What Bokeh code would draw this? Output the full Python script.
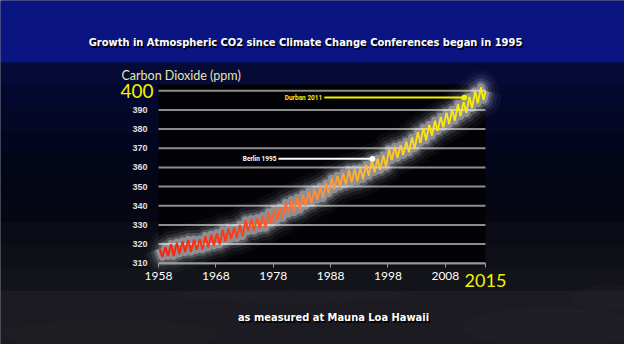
from bokeh.plotting import figure
from bokeh.models import Range1d, FixedTicker, Label, LinearAxis
from bokeh.embed import file_html
from bokeh.resources import INLINE

# ---- data ----
years = list(range(1958, 2015))
peak_ppm = [317.5, 318.3, 320.0, 320.7, 321.4, 322.2, 322.3, 322.5, 324.1, 324.9,
            325.7, 327.3, 328.1, 328.5, 330.0, 332.4, 333.0, 333.6, 334.6, 336.6,
            338.0, 339.3, 341.5, 342.9, 344.1, 345.9, 347.3, 348.5, 349.9, 351.6,
            354.2, 355.6, 357.0, 358.7, 359.2, 359.6, 361.4, 363.6, 364.6, 366.3,
            369.4, 370.8, 371.7, 373.4, 375.6, 378.4, 380.5, 382.2, 384.4, 386.4,
            388.5, 390.2, 393.1, 394.2, 396.8, 399.8, 401.8]
trough_ppm = [313.3, 313.8, 313.8, 315.0, 315.8, 316.0, 316.9, 317.3, 318.3, 319.2,
              319.8, 321.4, 322.7, 323.1, 324.1, 326.7, 327.0, 328.1, 328.6, 330.8,
              332.4, 333.7, 335.8, 336.6, 337.9, 340.0, 341.4, 343.2, 344.0, 346.5,
              348.6, 350.0, 351.1, 352.2, 352.8, 353.9, 355.7, 357.5, 358.6, 360.3,
              363.8, 365.0, 366.5, 367.9, 369.9, 372.8, 374.1, 376.6, 379.0, 380.9,
              382.6, 384.4, 386.8, 388.5, 391.0, 393.5, 395.3]
last_date = 2015.0
last_ppm = 399.9

x_ticks = [1958, 1968, 1978, 1988, 1998, 2008, 2015]
y_ticks = [310, 320, 330, 340, 350, 360, 370, 380, 390, 400]

event_names = ["Berlin 1995", "Durban 2011"]
event_year = [1995.3, 2011.3]
event_ppm = [364.5, 396.5]
event_line_start = [1978.9, 1986.9]
event_colors = ["#ffffff", "#f2f200"]

title = "Growth in Atmospheric CO2 since Climate Change Conferences began in 1995"
subtitle = "as measured at Mauna Loa Hawaii"
y_title = "Carbon Dioxide (ppm)"

PEAK_OFF, TROUGH_OFF = 0.2, 0.65

# ---- page-pixel <-> data helpers (layout only) ----
X_PX0, X_PPY = 166.0, 327.0 / 57.0     # page x of 1958, px per year
Y_PX0, Y_PPP = 270.7, 172.4 / 90.0     # page y of 310 ppm, px per ppm


def px2x(X):
    return 1958 + (X - X_PX0) / X_PPY


def px2y(Y):
    return 310 + (Y_PX0 - Y) / Y_PPP


# ---- build the zigzag ----
xs, ys = [], []
for yr, pk, tr in zip(years, peak_ppm, trough_ppm):
    xs += [yr + PEAK_OFF, yr + TROUGH_OFF]
    ys += [pk, tr]
xs.append(last_date)
ys.append(last_ppm)

stops = [(1958, (255, 30, 10)), (1972, (255, 60, 20)), (1985, (255, 140, 60)),
         (1995, (255, 190, 50)), (2005, (255, 228, 20)), (2015, (245, 240, 0))]


def col_at(t):
    for (a, ca), (b, cb) in zip(stops[:-1], stops[1:]):
        if t <= b:
            f = max(0.0, min(1.0, (t - a) / (b - a)))
            c = [int(ca[i] + (cb[i] - ca[i]) * f) for i in range(3)]
            return "#%02x%02x%02x" % tuple(c)
    return "#%02x%02x%02x" % stops[-1][1]


seg_cols = [col_at((xs[i] + xs[i + 1]) / 2) for i in range(len(xs) - 1)]

TITLE_FONT = "'DejaVu Sans Condensed', Roboto, sans-serif"

p = figure(width=624, height=344, x_range=Range1d(px2x(8), px2x(632)),
           y_range=Range1d(px2y(352), px2y(8)), x_axis_type=None, y_axis_type=None,
           output_backend="svg", toolbar_location=None, min_border=0)
p.grid.visible = False
p.outline_line_color = None
p.background_fill_color = "#03051c"
p.border_fill_color = "#03051c"

L, R = px2x(0), px2x(640)
# middle panel gradient
mid_cols = ["#050a36", "#04082e", "#040726", "#03061f", "#030519", "#040515",
            "#060713", "#0a0b14", "#0f1017", "#13141a"]
n = len(mid_cols)
for i, c in enumerate(mid_cols):
    y_top = 70 + (298 - 70) * i / n
    y_bot = 70 + (298 - 70) * (i + 1) / n
    p.quad(left=L, right=R, top=px2y(y_top), bottom=px2y(y_bot), color=c, line_color=None)
# top band
p.quad(left=L, right=R, top=px2y(0), bottom=px2y(70), color="#0b1582", line_color=None)
# bottom band + faint clouds
p.quad(left=L, right=R, top=px2y(298), bottom=px2y(360), color="#1b1b21", line_color=None)
for cx, cy, w, h, a in [(560, 335, 180, 40, 0.05), (300, 303, 240, 14, 0.04),
                        (120, 342, 220, 30, 0.03), (615, 305, 70, 26, 0.05)]:
    p.ellipse(x=px2x(cx), y=px2y(cy), width=w / X_PPY, height=h / Y_PPP,
              color="#5a5a64", alpha=a, line_color=None)
# chart area
p.quad(left=1958, right=2015, top=px2y(92), bottom=310, color="#020207", line_color=None)

# grid lines
p.segment(x0=[x_ticks[0]] * len(y_ticks), x1=[x_ticks[-1]] * len(y_ticks),
          y0=y_ticks, y1=y_ticks, line_color="#8e8e8e", line_width=2)

# axes
xaxis = LinearAxis(fixed_location=310, bounds=(x_ticks[0], x_ticks[-1]),
                   ticker=FixedTicker(ticks=x_ticks), major_label_overrides={2015: ""})
xaxis.axis_line_color = "#9a9a9a"
xaxis.axis_line_width = 1.5
xaxis.major_tick_line_color = "#9a9a9a"
xaxis.major_tick_out = 4
xaxis.major_tick_in = 0
xaxis.minor_tick_line_color = None
xaxis.major_label_standoff = 5
xaxis.major_label_text_font = "Lato"
xaxis.major_label_text_font_size = "12px"
xaxis.major_label_text_color = "#ffffff"
p.add_layout(xaxis, "below")

yaxis = LinearAxis(fixed_location=1958, bounds=(y_ticks[0], y_ticks[-1]),
                   ticker=FixedTicker(ticks=y_ticks), major_label_overrides={400: ""})
yaxis.axis_line_color = None
yaxis.major_tick_line_color = None
yaxis.minor_tick_line_color = None
yaxis.major_label_standoff = 5
yaxis.major_label_text_font = "Liberation Sans"
yaxis.major_label_text_font_style = "bold"
yaxis.major_label_text_font_size = "9px"
yaxis.major_label_text_color = "#e0e0e0"
p.add_layout(yaxis, "left")

# glow
for w, a in [(34, 0.035), (26, 0.06), (19, 0.11), (13, 0.2), (8, 0.35)]:
    p.line(xs, ys, line_width=w, line_alpha=a, line_color="#f6f7ff", line_join="round")

# annotation lines
for ex, ey, xs0, c in zip(event_year, event_ppm, event_line_start, event_colors):
    p.line([xs0, ex], [ey, ey], line_color=c, line_width=2)

# curve
p.segment(x0=xs[:-1], y0=ys[:-1], x1=xs[1:], y1=ys[1:], line_color=seg_cols,
          line_width=1.9)

p.scatter(event_year, event_ppm, size=5, marker="circle", color=event_colors)

for nm, ey, xs0, c in zip(event_names, event_ppm, event_line_start, event_colors):
    p.add_layout(Label(x=xs0, y=ey, x_offset=-2, text=nm, text_font="Roboto",
                       text_font_style="bold", text_font_size="6.5px", text_color=c,
                       text_align="right", text_baseline="middle"))

p.add_layout(Label(x=px2x(129), y=px2y(82.7), text=y_title, text_font="Lato",
                   text_font_size="12.5px", text_color="#e6e6a8",
                   text_align="left", text_baseline="middle"))
p.add_layout(Label(x=px2x(161), y=y_ticks[-1], text=str(y_ticks[-1]), text_font="Lato",
                   text_font_size="19px", text_color="#f2f200",
                   text_align="right", text_baseline="middle"))
p.add_layout(Label(x=x_ticks[-1], y=px2y(288), text=str(x_ticks[-1]), text_font="Lato",
                   text_font_size="18px", text_color="#f2f200",
                   text_align="center", text_baseline="middle"))

for txt, cx, cy in [(title, 313, 50), (subtitle, 341, 325)]:
    for dx, dy, c in [(1.5, -1.5, "#000000"), (0, 0, "#ffffff")]:
        p.add_layout(Label(x=px2x(cx), y=px2y(cy), x_offset=dx, y_offset=dy, text=txt,
                           text_font=TITLE_FONT, text_font_style="bold",
                           text_font_size="11px", text_color=c,
                           text_align="center", text_baseline="middle"))

open("out.html", "w").write(file_html(p, INLINE))
